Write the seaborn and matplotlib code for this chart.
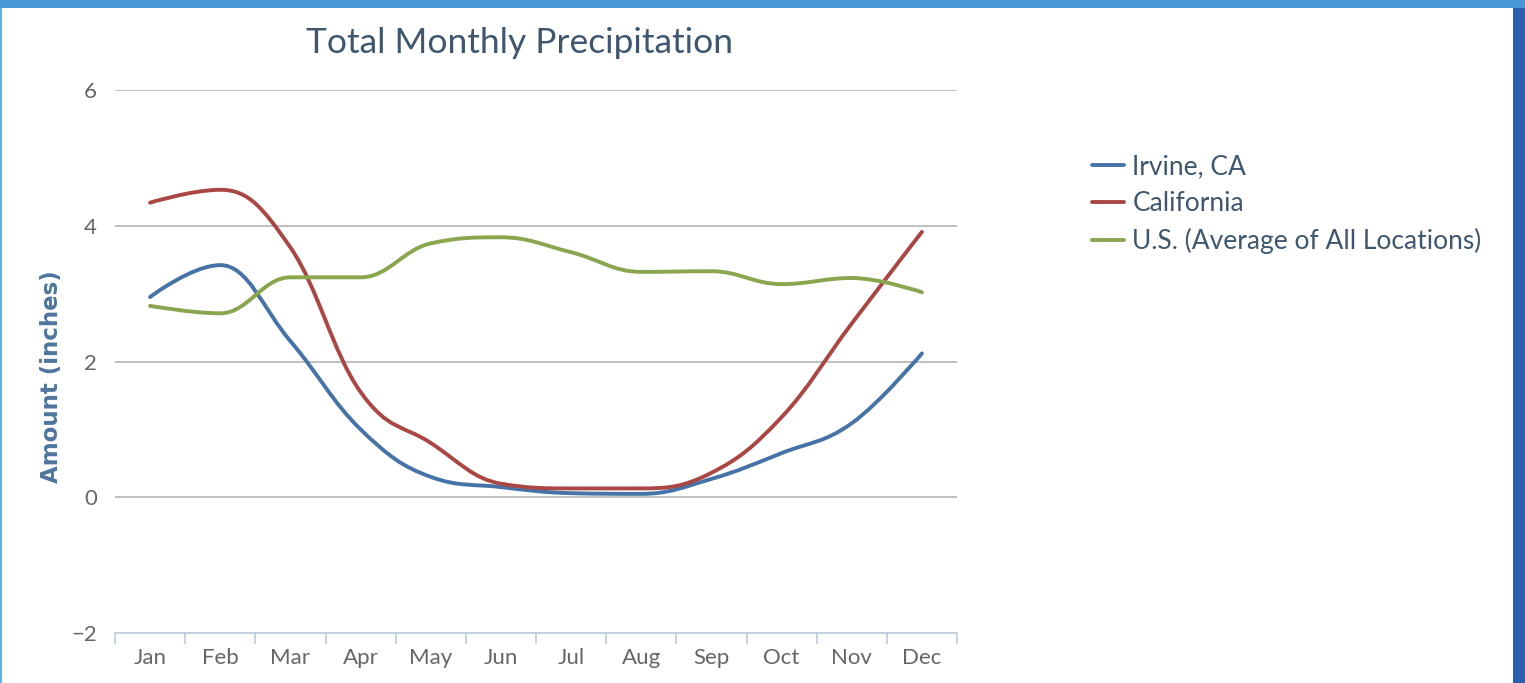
import numpy as np
import pandas as pd
import matplotlib
matplotlib.use('Agg')
import matplotlib.pyplot as plt
from matplotlib.path import Path
from matplotlib.patches import PathPatch, Rectangle
import seaborn as sns

# Data (inches)
months = ['Jan', 'Feb', 'Mar', 'Apr', 'May', 'Jun', 'Jul', 'Aug', 'Sep', 'Oct', 'Nov', 'Dec']
irvine = [2.95, 3.42, 2.3, 1.0, 0.3, 0.15, 0.06, 0.05, 0.27, 0.65, 1.09, 2.12]
california = [4.34, 4.53, 3.68, 1.55, 0.8, 0.2, 0.13, 0.13, 0.36, 1.18, 2.56, 3.91]
us_avg = [2.82, 2.71, 3.24, 3.24, 3.74, 3.83, 3.61, 3.32, 3.33, 3.14, 3.23, 3.02]
series_names = ['Irvine, CA', 'California', 'U.S. (Average of All Locations)']
colors = ['#4572A7', '#AA4643', '#89A54E']

df = pd.concat([
    pd.DataFrame({'month': range(len(months)), 'value': vals, 'series': name})
    for name, vals in zip(series_names, [irvine, california, us_avg])
])


def spline_path(x, y, smoothing=1.5):
    """Bezier path through the points, same control-point rule as Highcharts splines"""
    n = len(x)
    denom = smoothing + 1
    left = [None] * n
    right = [(x[0], y[0])] + [None] * (n - 1)
    for i in range(1, n - 1):
        lx = (smoothing * x[i] + x[i - 1]) / denom
        ly = (smoothing * y[i] + y[i - 1]) / denom
        rx = (smoothing * x[i] + x[i + 1]) / denom
        ry = (smoothing * y[i] + y[i + 1]) / denom
        corr = (ry - ly) * (rx - x[i]) / (rx - lx) + y[i] - ry
        ly += corr
        ry += corr
        if ly > y[i - 1] and ly > y[i]:
            ly = max(y[i - 1], y[i]); ry = 2 * y[i] - ly
        elif ly < y[i - 1] and ly < y[i]:
            ly = min(y[i - 1], y[i]); ry = 2 * y[i] - ly
        if ry > y[i + 1] and ry > y[i]:
            ry = max(y[i + 1], y[i]); ly = 2 * y[i] - ry
        elif ry < y[i + 1] and ry < y[i]:
            ry = min(y[i + 1], y[i]); ly = 2 * y[i] - ry
        left[i] = (lx, ly)
        right[i] = (rx, ry)
    left[n - 1] = (x[n - 1], y[n - 1])
    verts = [(x[0], y[0])]
    codes = [Path.MOVETO]
    for i in range(1, n):
        verts += [right[i - 1], left[i], (x[i], y[i])]
        codes += [Path.CURVE4] * 3
    return Path(verts, codes)


sns.set_style('white')
plt.rcParams['font.family'] = ['Lato', 'DejaVu Sans']

fig = plt.figure(figsize=(15.25, 6.83), dpi=100)
fig.patch.set_facecolor('#2c5fae')
frame = [((0, 0), 2 / 1525, 1, '#5ab4e8'),
         ((2 / 1525, 0), 1511 / 1525, 675 / 683, 'white'),
         ((0, 675 / 683), 1, 8 / 683, '#4a98d8')]
for xy, w, h, c in frame:
    fig.patches.append(Rectangle(xy, w, h, transform=fig.transFigure,
                                 facecolor=c, edgecolor='none', zorder=-5))

ax = fig.add_axes([115 / 1525, 50 / 683, 842 / 1525, 543 / 683])
ax.set_facecolor('none')

sns.lineplot(data=df, x='month', y='value', hue='series', hue_order=series_names,
             palette=colors, linewidth=2.8, ax=ax, legend=True)

# swap the straight polylines for smooth spline curves
for line in list(ax.lines):
    xd, yd = line.get_xdata(), line.get_ydata()
    if len(xd) != len(months):
        continue
    patch = PathPatch(spline_path(list(xd), list(yd)), facecolor='none',
                      edgecolor=line.get_color(), linewidth=2.8, capstyle='round', zorder=3)
    ax.add_patch(patch)
    line.remove()

ax.set_xlim(-0.5, len(months) - 0.5)
ax.set_ylim(-2, 6)
ax.set_yticks([-2, 0, 2, 4, 6])
ax.set_xticks(range(len(months)))
ax.set_xticklabels(months)
ax.set_xticks(np.arange(-0.5, len(months)), minor=True)

for s in ['top', 'right', 'left']:
    ax.spines[s].set_visible(False)
ax.spines['bottom'].set_color('#C0D0E0')
ax.spines['bottom'].set_linewidth(1.4)
ax.spines['bottom'].set_zorder(2)

ax.yaxis.grid(True, color='#C0C0C0', linewidth=1.4)
ax.set_axisbelow(True)
ax.tick_params(axis='y', length=0, pad=13, labelsize=16, labelcolor='#666666')
ax.tick_params(axis='x', which='major', length=0, pad=11, labelsize=16, labelcolor='#666666')
ax.tick_params(axis='x', which='minor', bottom=True, length=8, width=1.3,
               color='#C0D0E0', direction='out')

ax.set_xlabel('')
ax.set_ylabel('Amount (inches)', fontsize=16.5, fontweight='bold', color='#4D759E',
              family=['DejaVu Sans'])
ax.yaxis.set_label_coords(-0.062, 0.472)

fig.text(519 / 1525, 1 - 43 / 683, 'Total Monthly Precipitation', ha='center', va='center',
         fontsize=25.5, color='#3E576F')

handles, labels = ax.get_legend_handles_labels()
ax.legend(handles, labels, loc='upper left', bbox_to_anchor=(1092 / 1525, 1 - 154 / 683),
          bbox_transform=fig.transFigure, frameon=False, fontsize=19,
          handlelength=1.2, handletextpad=0.33, labelspacing=0.45, borderpad=0,
          borderaxespad=0, labelcolor='#3E576F')

fig.savefig('out.png', dpi=100)
